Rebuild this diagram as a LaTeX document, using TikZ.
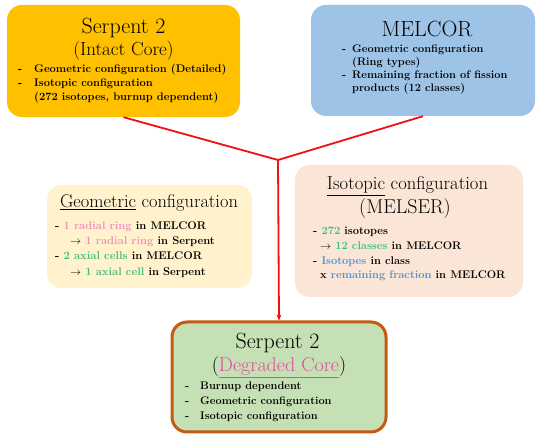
\documentclass[tikz,border=0pt]{standalone}
\usetikzlibrary{arrows.meta}
\definecolor{goldbox}{HTML}{FFC000}
\definecolor{bluebox}{HTML}{9DC3E6}
\definecolor{geobox}{HTML}{FFF2CC}
\definecolor{isobox}{HTML}{FBE5D6}
\definecolor{greenbox}{HTML}{C5E0B4}
\definecolor{brownline}{HTML}{C55A11}
\definecolor{pinkt}{HTML}{F08DC0}
\definecolor{degc}{HTML}{E04C9E}
\definecolor{greent}{HTML}{3DBE78}
\definecolor{bluet}{HTML}{4A90D9}
\definecolor{redline}{HTML}{F01010}
\tikzset{
  box/.style={rectangle, rounded corners=15pt, inner sep=0pt, draw=none},
  ttl/.style={inner sep=0pt, anchor=base, font=\fontsize{22}{26}\selectfont},
  sub/.style={inner sep=0pt, anchor=base, font=\fontsize{#1}{22}\selectfont},
  sub/.default=19.5,
  bodyt/.style={inner sep=0pt, anchor=base west, font=\bfseries\fontsize{#1}{13}\selectfont},
  bodyt/.default=11,
  conn/.style={draw=redline, line width=1.8pt}
}
\begin{document}
\begin{tikzpicture}[x=1pt,y=-1pt]
\path[use as bounding box, fill=white] (0,0) rectangle (539,435);
% boxes
\node[box, fill=goldbox, minimum width=233pt, minimum height=112pt] (b1) at (123.5,61) {};
\node[box, fill=bluebox, minimum width=224pt, minimum height=111pt] (b2) at (423,60.5) {};
\node[box, fill=geobox, minimum width=205pt, minimum height=103pt] (b3) at (149.5,236.5) {};
\node[box, fill=isobox, minimum width=228pt, minimum height=132pt] (b4) at (409,231) {};
\node[box, fill=greenbox, draw=brownline, line width=3pt, minimum width=214pt, minimum height=110pt] (b5) at (279,377) {};
% connectors
\coordinate (j) at (278,160);
\draw[conn] (b1.south) -- (j);
\draw[conn] (b2.south) -- (j);
\draw[conn, -{Stealth[length=6pt,width=5pt]}] (j) -- (b5.north);
% box 1
\node[ttl] (t1) at (123.5,34) {Serpent 2};
\node[sub=19] (s1) at (123.5,56) {(Intact Core)};
\node[bodyt=11.1] (d1a) at (18,73) {-};
\node[bodyt=11.1] (l1a) at (34,73) {Geometric configuration (Detailed)};
\node[bodyt=11.1] (d1b) at (18,87) {-};
\node[bodyt=11.1] (l1b) at (34,87) {Isotopic configuration};
\node[bodyt=11.1] (l1c) at (34,101) {(272 isotopes, burnup dependent)};
% box 2
\node[ttl] (t2) at (427,37) {MELCOR};
\node[bodyt] (d2a) at (342,53) {-};
\node[bodyt] (l2a) at (352,53) {Geometric configuration};
\node[bodyt] (l2b) at (352,66) {(Ring types)};
\node[bodyt] (d2c) at (342,79) {-};
\node[bodyt] (l2c) at (352,79) {Remaining fraction of fission};
\node[bodyt] (l2d) at (352,92) {products (12 classes)};
% box 3
\node[sub=18.4] (t3) at (149,208) {\underline{Geometric} configuration};
\node[bodyt=11.2] (l3a) at (55,230) {- \textcolor{pinkt}{1 radial ring} in MELCOR};
\node[bodyt=11.2] (l3b) at (70,244.5) {$\rightarrow$ \textcolor{pinkt}{1 radial ring} in Serpent};
\node[bodyt=11.2] (l3c) at (55,260) {- \textcolor{greent}{2 axial cells} in MELCOR};
\node[bodyt=11.2] (l3d) at (70,276) {$\rightarrow$ \textcolor{greent}{1 axial cell} in Serpent};
% box 4
\node[sub=18.6] (t4) at (407.5,190) {\underline{Isotopic} configuration};
\node[sub=20] (s4) at (405,214) {(MELSER)};
\node[bodyt=11.1] (l4a) at (313,235) {- \textcolor{greent}{272} isotopes};
\node[bodyt=11.1] (l4b) at (320,250) {$\rightarrow$ \textcolor{greent}{12 classes} in MELCOR};
\node[bodyt=11.1] (l4c) at (313,265) {- \textcolor{bluet}{Isotopes} in class};
\node[bodyt=11.1] (l4d) at (320,278.5) {x \textcolor{bluet}{remaining fraction} in MELCOR};
% box 5
\node[ttl] (t5) at (277.5,349) {Serpent 2};
\node[sub=20] (s5) at (279,372) {(\textcolor{degc}{\underline{Degraded Core}})};
\node[bodyt] (d5a) at (185,390) {-};
\node[bodyt] (l5a) at (200,390) {Burnup dependent};
\node[bodyt] (d5b) at (185,404.5) {-};
\node[bodyt] (l5b) at (200,404.5) {Geometric configuration};
\node[bodyt] (d5c) at (185,420) {-};
\node[bodyt] (l5c) at (200,420) {Isotopic configuration};
\end{tikzpicture}
\end{document}
